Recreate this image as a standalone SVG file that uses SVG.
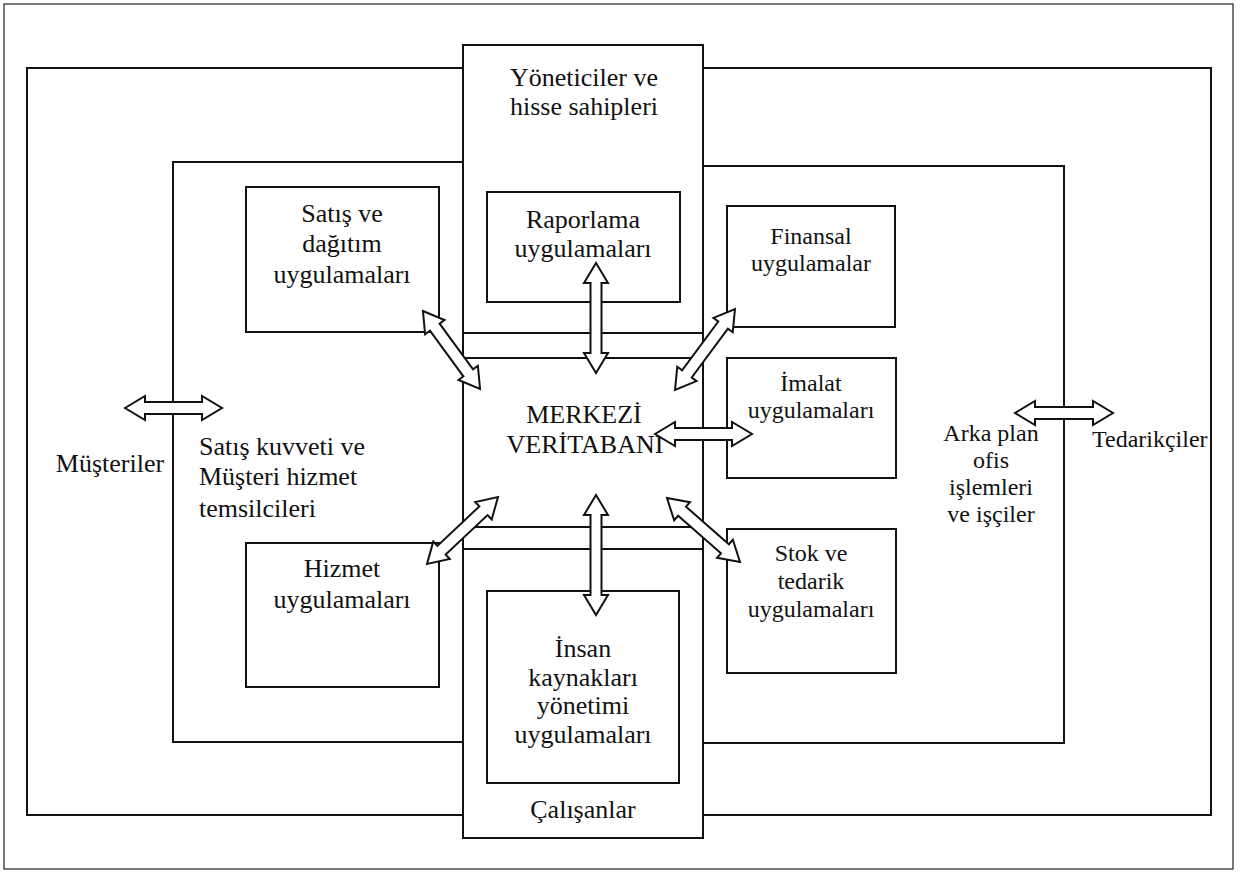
<svg xmlns="http://www.w3.org/2000/svg" width="1242" height="874" viewBox="0 0 1242 874">
  <style>
    .frame { fill: none; stroke: #111; stroke-width: 2; }
    .box { fill: #fff; stroke: #111; stroke-width: 2; }
    .page { fill: #fff; stroke: #222; stroke-width: 1.2; }
    .arrow { fill: #fff; stroke: #111; stroke-width: 2; stroke-linejoin: miter; }
    text { font-family: "Liberation Serif", "Times New Roman", serif; fill: #111; }
    .t26 { font-size: 26px; text-anchor: middle; }
    .t24 { font-size: 24px; text-anchor: middle; }
    .left26 { font-size: 26px; text-anchor: start; }
    .left24 { font-size: 24px; text-anchor: start; }
  </style>

  <!-- page border -->
  <rect class="page" x="4" y="4" width="1229" height="865"/>

  <!-- outer environment box (customers / suppliers) -->
  <g id="outer">
    <rect class="frame" x="27" y="68" width="1184" height="747"/>
    <text class="t26" x="110" y="472">Müşteriler</text>
    <text class="left24" x="1092" y="447">Tedarikçiler</text>
  </g>

  <!-- inner enterprise frame, split by the central column -->
  <g id="enterprise">
    <path class="frame" d="M463,162 H173 V742 H463"/>
    <path class="frame" d="M703,166 H1064 V743 H703"/>
    <text class="left26" x="199" y="455">Satış kuvveti ve</text>
    <text class="left26" x="199" y="485">Müşteri hizmet</text>
    <text class="left26" x="199" y="517">temsilcileri</text>
    <text class="t24" x="991" y="441">Arka plan</text>
    <text class="t24" x="991" y="468">ofis</text>
    <text class="t24" x="991" y="495">işlemleri</text>
    <text class="t24" x="991" y="522">ve işçiler</text>
  </g>

  <!-- central column: managers, database, employees -->
  <g id="column">
    <rect class="box" x="463" y="45" width="240" height="793"/>
    <path class="frame" d="M463,333 H703 M463,358 H703 M463,527 H703 M463,549 H703"/>
    <text class="t26" x="584" y="86">Yöneticiler ve</text>
    <text class="t26" x="584" y="115">hisse sahipleri</text>
    <text class="t26" x="583" y="818">Çalışanlar</text>
  </g>

  <g id="raporlama">
    <rect class="box" x="487" y="192" width="193" height="110"/>
    <text class="t26" x="583" y="228">Raporlama</text>
    <text class="t26" x="583" y="257">uygulamaları</text>
  </g>

  <g id="merkezi">
    <text class="t26" x="584" y="423">MERKEZİ</text>
    <text class="t26" x="585" y="453">VERİTABANI</text>
  </g>

  <g id="insan-kaynaklari">
    <rect class="box" x="487" y="591" width="192" height="192"/>
    <text class="t26" x="583" y="657">İnsan</text>
    <text class="t26" x="583" y="686">kaynakları</text>
    <text class="t26" x="583" y="714">yönetimi</text>
    <text class="t26" x="583" y="743">uygulamaları</text>
  </g>

  <g id="satis-dagitim">
    <rect class="box" x="246" y="187" width="193" height="145"/>
    <text class="t26" x="342" y="222">Satış ve</text>
    <text class="t26" x="342" y="252">dağıtım</text>
    <text class="t26" x="342" y="283">uygulamaları</text>
  </g>

  <g id="hizmet">
    <rect class="box" x="246" y="543" width="193" height="144"/>
    <text class="t26" x="342" y="577">Hizmet</text>
    <text class="t26" x="342" y="608">uygulamaları</text>
  </g>

  <g id="finansal">
    <rect class="box" x="727" y="206" width="168" height="121"/>
    <text class="t24" x="811" y="244">Finansal</text>
    <text class="t24" x="811" y="271">uygulamalar</text>
  </g>

  <g id="imalat">
    <rect class="box" x="727" y="358" width="169" height="120"/>
    <text class="t24" x="811" y="391">İmalat</text>
    <text class="t24" x="811" y="418">uygulamaları</text>
  </g>

  <g id="stok-tedarik">
    <rect class="box" x="727" y="529" width="169" height="144"/>
    <text class="t24" x="811" y="561">Stok ve</text>
    <text class="t24" x="811" y="589">tedarik</text>
    <text class="t24" x="811" y="617">uygulamaları</text>
  </g>

  <!-- double-headed block arrows, each drawn along its own axis -->
  <g id="connectors">
    <!-- customers -->
    <polygon class="arrow" transform="translate(173.5,408)" points="-48.5,0 -28.5,-12 -28.5,-6 28.5,-6 28.5,-12 48.5,0 28.5,12 28.5,6 -28.5,6 -28.5,12"/>
    <!-- suppliers -->
    <polygon class="arrow" transform="translate(1064,413)" points="-49,0 -29,-12 -29,-6 29,-6 29,-12 49,0 29,12 29,6 -29,6 -29,12"/>
    <!-- reporting -->
    <polygon class="arrow" transform="translate(596,318) rotate(90)" points="-55,0 -35,-12 -35,-5.5 35,-5.5 35,-12 55,0 35,12 35,5.5 -35,5.5 -35,12"/>
    <!-- human resources -->
    <polygon class="arrow" transform="translate(596,555) rotate(90)" points="-60,0 -40,-12 -40,-5.5 40,-5.5 40,-12 60,0 40,12 40,5.5 -40,5.5 -40,12"/>
    <!-- sales and distribution -->
    <polygon class="arrow" transform="translate(451.5,350) rotate(53.8)" points="-48.3,0 -28.3,-12 -28.3,-6 28.3,-6 28.3,-12 48.3,0 28.3,12 28.3,6 -28.3,6 -28.3,12"/>
    <!-- financial -->
    <polygon class="arrow" transform="translate(705,349.5) rotate(126.5)" points="-50.4,0 -30.4,-12 -30.4,-6 30.4,-6 30.4,-12 50.4,0 30.4,12 30.4,6 -30.4,6 -30.4,12"/>
    <!-- manufacturing -->
    <polygon class="arrow" transform="translate(703.5,434)" points="-48.5,0 -28.5,-12 -28.5,-6 28.5,-6 28.5,-12 48.5,0 28.5,12 28.5,6 -28.5,6 -28.5,12"/>
    <!-- service -->
    <polygon class="arrow" transform="translate(462.5,530.5) rotate(136.7)" points="-48.8,0 -28.8,-12 -28.8,-6 28.8,-6 28.8,-12 48.8,0 28.8,12 28.8,6 -28.8,6 -28.8,12"/>
    <!-- inventory and supply -->
    <polygon class="arrow" transform="translate(703.5,530) rotate(41.2)" points="-48.5,0 -28.5,-12 -28.5,-6 28.5,-6 28.5,-12 48.5,0 28.5,12 28.5,6 -28.5,6 -28.5,12"/>
  </g>
</svg>
